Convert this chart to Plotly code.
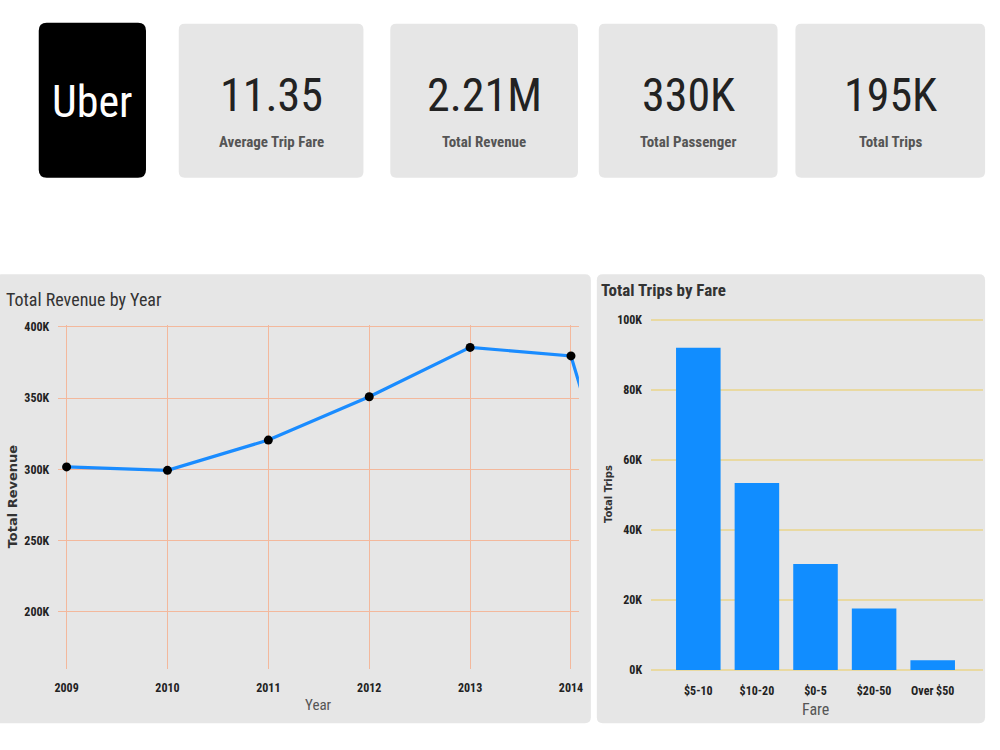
import plotly.graph_objects as go

# ---------------- data ----------------
kpi_values = ["11.35", "2.21M", "330K", "195K"]
kpi_labels = ["Average Trip Fare", "Total Revenue", "Total Passenger", "Total Trips"]

years = [2009, 2010, 2011, 2012, 2013, 2014, 2015]
revenue = [301700, 299300, 320500, 350900, 385500, 379500, 142000]
rev_tickvals = [200000, 250000, 300000, 350000, 400000]
rev_ticktext = ["200K", "250K", "300K", "350K", "400K"]

fares = ["$5-10", "$10-20", "$0-5", "$20-50", "Over $50"]
trips = [92000, 53400, 30300, 17600, 2800]
trip_tickvals = [0, 20000, 40000, 60000, 80000, 100000]
trip_ticktext = ["0K", "20K", "40K", "60K", "80K", "100K"]

# ---------------- helpers ----------------
W, H = 1000, 750
NARROW = "Roboto Condensed, Liberation Sans Narrow, Arial Narrow, Liberation Sans, sans-serif"
WIDE = "DejaVu Sans, Verdana, sans-serif"


def px(x):
    return x / W


def py(y):
    return 1 - y / H


def rrect(x0, y0, x1, y1, r):
    rx, ry = r / W, r / H
    X0, X1 = px(x0), px(x1)
    Yt, Yb = py(y0), py(y1)
    return (f"M {X0+rx},{Yt} L {X1-rx},{Yt} Q {X1},{Yt} {X1},{Yt-ry} "
            f"L {X1},{Yb+ry} Q {X1},{Yb} {X1-rx},{Yb} "
            f"L {X0+rx},{Yb} Q {X0},{Yb} {X0},{Yb+ry} "
            f"L {X0},{Yt-ry} Q {X0},{Yt} {X0+rx},{Yt} Z")


fig = go.Figure()

# line chart
fig.add_trace(go.Scatter(
    x=years, y=revenue, mode="lines+markers",
    line=dict(color="#1a8cff", width=3.2),
    marker=dict(color="black", size=9),
    xaxis="x", yaxis="y", showlegend=False))

# bar chart
fig.add_trace(go.Bar(
    x=fares, y=trips, marker=dict(color="#118dff", line=dict(width=0)),
    width=0.76, xaxis="x2", yaxis="y2", showlegend=False))

shapes = []
annotations = []

# Uber logo box
shapes.append(dict(type="path", path=rrect(36, 18, 144, 175, 8), xref="paper", yref="paper",
                   fillcolor="black", line=dict(width=0), layer="below"))
annotations.append(dict(x=px(90), y=py(98), text="Uber",
                        font=dict(family=NARROW, size=44, color="white"),
                        xanchor="center", yanchor="middle"))

# KPI cards
cards = [(177, 363), (390, 579), (600, 780), (798, 989)]
for (x0, x1), v, lab in zip(cards, kpi_values, kpi_labels):
    shapes.append(dict(type="path", path=rrect(x0, 19, x1, 175, 6), xref="paper", yref="paper",
                       fillcolor="#e6e6e6", line=dict(width=0), layer="below"))
    cx = (x0 + x1) / 2
    annotations.append(dict(x=px(cx), y=py(91), text=v,
                            font=dict(family=NARROW, size=46, color="#222"),
                            xanchor="center", yanchor="middle"))
    annotations.append(dict(x=px(cx), y=py(139), text=f"<b>{lab}</b>",
                            font=dict(family=NARROW, size=15, color="#555"),
                            xanchor="center", yanchor="middle"))

# Panels
shapes.append(dict(type="path", path=rrect(-8, 273, 592, 728, 6), xref="paper", yref="paper",
                   fillcolor="#e6e6e6", line=dict(width=0), layer="below"))
shapes.append(dict(type="path", path=rrect(598, 273, 989, 728, 6), xref="paper", yref="paper",
                   fillcolor="#e6e6e6", line=dict(width=0), layer="below"))

# Panel titles and axis titles
annotations += [
    dict(x=px(1), y=py(298), text="Total Revenue by Year",
         font=dict(family=NARROW, size=18, color="#333"), xanchor="left", yanchor="middle"),
    dict(x=px(600), y=py(289), text="<b>Total Trips by Fare</b>",
         font=dict(family=NARROW, size=17, color="#333"), xanchor="left", yanchor="middle"),
    dict(x=px(9), y=py(498), text="<b>Total Revenue</b>", textangle=-90,
         font=dict(family=WIDE, size=13, color="#333"),
         xanchor="center", yanchor="middle"),
    dict(x=px(318), y=py(709), text="Year",
         font=dict(family=NARROW, size=15, color="#555"), xanchor="center", yanchor="middle"),
    dict(x=px(610), y=py(496), text="<b>Total Trips</b>", textangle=-90,
         font=dict(family=WIDE, size=10, color="#333"),
         xanchor="center", yanchor="middle"),
    dict(x=px(818), y=py(714), text="Fare",
         font=dict(family=NARROW, size=16, color="#555"), xanchor="center", yanchor="middle"),
]
for a in annotations:
    a.setdefault("xref", "paper")
    a.setdefault("yref", "paper")
    a.setdefault("showarrow", False)

tickfont = dict(family=NARROW, size=12, color="#222")
salmon = "#f3b89c"

fig.update_layout(
    width=W, height=H, margin=dict(l=0, r=0, t=0, b=0),
    paper_bgcolor="white", plot_bgcolor="rgba(0,0,0,0)",
    shapes=shapes, annotations=annotations,
    xaxis=dict(domain=[px(55), px(580)], range=[2008.911, 2014.079],
               tickvals=years[:-1], ticktext=[f"<b>{y}</b>" for y in years[:-1]],
               showgrid=True, gridcolor=salmon, gridwidth=1, zeroline=False, showline=False,
               ticks="outside", ticklen=8, tickcolor="rgba(0,0,0,0)", tickfont=tickfont),
    yaxis=dict(domain=[py(673), py(324.6)], range=[160000, 401000],
               tickvals=rev_tickvals, ticktext=[f"<b>{t}</b>" for t in rev_ticktext],
               showgrid=True, gridcolor=salmon, gridwidth=1, zeroline=False, showline=False,
               ticks="outside", ticklen=5, tickcolor="rgba(0,0,0,0)", tickfont=tickfont),
    xaxis2=dict(domain=[px(653), px(987)], range=[-0.8, 4.86], type="category",
                showgrid=False, zeroline=False, showline=False,
                ticks="outside", ticklen=8, tickcolor="rgba(0,0,0,0)",
                tickvals=fares, ticktext=[f"<b>{f}</b>" for f in fares], tickfont=tickfont,
                anchor="y2"),
    yaxis2=dict(domain=[py(675.8), py(317.2)], range=[-500, 100500],
                tickvals=trip_tickvals, ticktext=[f"<b>{t}</b>" for t in trip_ticktext],
                showgrid=True, gridcolor="#e9d9a1", gridwidth=2, zeroline=False, showline=False,
                ticks="outside", ticklen=6, tickcolor="rgba(0,0,0,0)", tickfont=tickfont,
                anchor="x2"),
)

fig.write_html("out.html")
